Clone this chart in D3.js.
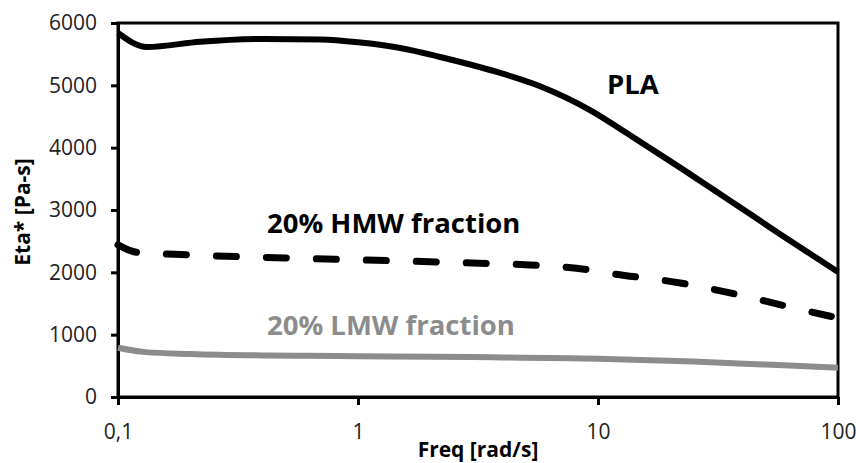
<!DOCTYPE html>
<html>
<head>
<meta charset="utf-8">
<script src="https://cdn.jsdelivr.net/npm/d3@7"></script>
<style>
  body { margin: 0; background: #fff; }
  svg { display: block; font-family: 'Open Sans', sans-serif; }
</style>
</head>
<body>
<svg id="chart"></svg>
<script>
// complex viscosity vs frequency
const freqPLA = [0.1, 0.132, 0.22, 0.41, 0.7, 1, 1.5, 2.2, 3.55, 5.7, 9.3, 13.6, 22, 35.5, 57, 100];
const etaPLA = [5840, 5615, 5700, 5745, 5735, 5690, 5600, 5455, 5246, 4990, 4600, 4200, 3680, 3150, 2620, 2005];

const freqHMW = [0.1, 0.12, 0.2, 0.5, 1, 3, 5.2, 9.3, 11.2, 22, 35.5, 63, 100];
const etaHMW = [2440, 2320, 2280, 2230, 2200, 2150, 2118, 2037, 1985, 1830, 1670, 1444, 1267];

const freqLMW = [0.1, 0.13, 0.2, 0.6, 1, 3, 10, 25, 50, 100];
const etaLMW = [790, 720, 690, 660, 655, 640, 615, 570, 520, 470];

const xTicks = [0.1, 1, 10, 100];
const xTickLabels = ['0,1', '1', '10', '100'];
const yTicks = [0, 1000, 2000, 3000, 4000, 5000, 6000];

const width = 856;
const height = 463;
const margin = { top: 23, right: 18, bottom: 66, left: 118 };

const x = d3.scaleLog()
  .domain([0.1, 100])
  .range([margin.left, width - margin.right]);

const y = d3.scaleLinear()
  .domain([0, 6000])
  .range([height - margin.bottom, margin.top]);

const svg = d3.select('#chart')
  .attr('width', width)
  .attr('height', height);

// frame
svg.append('rect')
  .attr('x', x(0.1))
  .attr('y', y(6000))
  .attr('width', x(100) - x(0.1))
  .attr('height', y(0) - y(6000))
  .attr('fill', 'none')
  .attr('stroke', '#000')
  .attr('stroke-width', 3);

const xAxis = g => g
  .attr('transform', `translate(0,${y(0)})`)
  .call(d3.axisBottom(x).tickValues(xTicks)
    .tickFormat((d, i) => xTickLabels[i]).tickSize(8).tickPadding(19).tickSizeOuter(0))
  .call(g => g.select('.domain').attr('stroke-width', 3))
  .call(g => g.selectAll('.tick line').attr('stroke-width', 3))
  .call(g => g.selectAll('text').attr('font-size', 21).attr('fill', '#222')
    .attr('font-family', "'Open Sans', sans-serif"));

const yAxis = g => g
  .attr('transform', `translate(${x(0.1)},0)`)
  .call(d3.axisLeft(y).tickValues(yTicks).tickFormat(d3.format('d'))
    .tickSize(7).tickPadding(14).tickSizeOuter(0))
  .call(g => g.select('.domain').attr('stroke-width', 3))
  .call(g => g.selectAll('.tick line').attr('stroke-width', 3))
  .call(g => g.selectAll('text').attr('font-size', 21).attr('fill', '#222')
    .attr('font-family', "'Open Sans', sans-serif"));

svg.append('g').call(xAxis);
svg.append('g').call(yAxis);

const line = d3.line()
  .x(d => x(d[0]))
  .y(d => y(d[1]))
  .curve(d3.curveMonotoneX);

svg.append('path')
  .datum(d3.zip(freqLMW, etaLMW))
  .attr('fill', 'none')
  .attr('stroke', '#8c8c8c')
  .attr('stroke-width', 6)
  .attr('d', line);

svg.append('path')
  .datum(d3.zip(freqHMW, etaHMW))
  .attr('fill', 'none')
  .attr('stroke', '#000')
  .attr('stroke-width', 7)
  .attr('stroke-linecap', 'round')
  .attr('stroke-dasharray', '20 30')
  .attr('d', line);

svg.append('path')
  .datum(d3.zip(freqPLA, etaPLA))
  .attr('fill', 'none')
  .attr('stroke', '#000')
  .attr('stroke-width', 6)
  .attr('d', line);

// series labels
const labels = svg.append('g')
  .attr('font-weight', 'bold')
  .attr('font-size', 27.5);

labels.append('text').attr('x', 607).attr('y', 94).attr('fill', '#000').text('PLA');
labels.append('text').attr('x', 267).attr('y', 233).attr('fill', '#000').text('20% HMW fraction');
labels.append('text').attr('x', 267).attr('y', 335).attr('fill', '#8c8c8c').text('20% LMW fraction');

// axis titles
svg.append('text')
  .attr('x', 478)
  .attr('y', 457)
  .attr('text-anchor', 'middle')
  .attr('font-weight', 'bold')
  .attr('font-size', 21)
  .text('Freq [rad/s]');

svg.append('text')
  .attr('transform', 'translate(30,212) rotate(-90)')
  .attr('text-anchor', 'middle')
  .attr('font-weight', 'bold')
  .attr('font-size', 21)
  .text('Eta* [Pa-s]');
</script>
</body>
</html>
